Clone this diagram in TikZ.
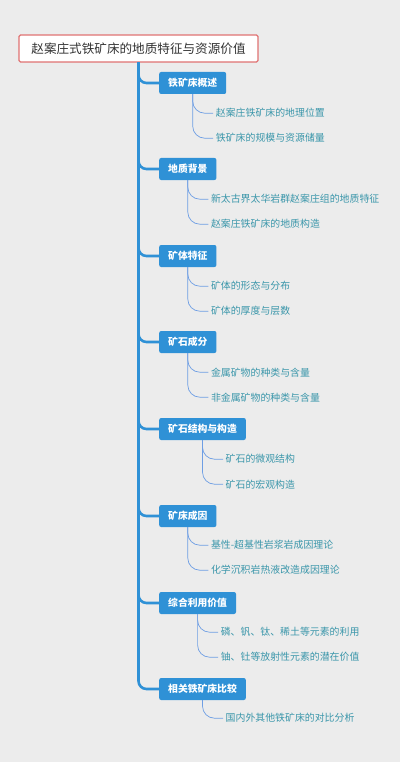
\documentclass[tikz,border=0pt]{standalone}
\usepackage{fontspec}
\setmainfont{Noto Sans CJK SC}
\usetikzlibrary{calc}
\definecolor{bg}{HTML}{ECECEC}
\definecolor{mainblue}{HTML}{2F91D6}
\definecolor{rootred}{HTML}{E07272}
\definecolor{leaftext}{HTML}{3A96AA}
\definecolor{twigblue}{HTML}{6E9EE4}
\definecolor{roottext}{HTML}{333333}
\tikzset{
  rootbox/.style={draw=rootred, line width=1.1pt, fill=white, rounded corners=1.5pt,
    minimum width=239pt, minimum height=27pt, inner sep=0pt, text=roottext,
    font=\fontsize{12.6}{14}\selectfont},
  branchbox/.style={fill=mainblue, rounded corners=2pt, minimum height=22pt,
    inner xsep=9pt, inner ysep=0pt, text=white, anchor=west,
    font=\fontsize{9.8}{11}\selectfont\bfseries},
  leaf/.style={anchor=west, inner sep=0pt, text=leaftext,
    font=\fontsize{9.9}{11}\selectfont},
  trunk/.style={draw=mainblue, line width=2.6pt, rounded corners=8pt},
  twig/.style={draw=twigblue, line width=0.7pt, rounded corners=12pt},
}
\begin{document}
\begin{tikzpicture}[x=1pt,y=-1pt]
\path[fill=bg] (0,0) rectangle (400,762);
\node[rootbox] (root) at (138.5,48.5) {赵案庄式铁矿床的地质特征与资源价值};

\node[branchbox] (b1) at (159,83) {铁矿床概述};
\node[branchbox] (b2) at (159,169) {地质背景};
\node[branchbox] (b3) at (159,256) {矿体特征};
\node[branchbox] (b4) at (159,342) {矿石成分};
\node[branchbox] (b5) at (159,429) {矿石结构与构造};
\node[branchbox] (b6) at (159,516) {矿床成因};
\node[branchbox] (b7) at (159,603) {综合利用价值};
\node[branchbox] (b8) at (159,689) {相关铁矿床比较};

\foreach \b in {b8,b7,b6,b5,b4,b3,b2,b1}{
  \draw[trunk] (root.south) |- (\b.west);
}

\node[leaf] (c11) at ($(b1.south)+(23,19)$) {赵案庄铁矿床的地理位置};
\node[leaf] (c12) at ($(b1.south)+(23,44)$) {铁矿床的规模与资源储量};
\node[leaf] (c21) at ($(b2.south)+(23,19)$) {新太古界太华岩群赵案庄组的地质特征};
\node[leaf] (c22) at ($(b2.south)+(23,44)$) {赵案庄铁矿床的地质构造};
\node[leaf] (c31) at ($(b3.south)+(23,19)$) {矿体的形态与分布};
\node[leaf] (c32) at ($(b3.south)+(23,44)$) {矿体的厚度与层数};
\node[leaf] (c41) at ($(b4.south)+(23,19)$) {金属矿物的种类与含量};
\node[leaf] (c42) at ($(b4.south)+(23,44)$) {非金属矿物的种类与含量};
\node[leaf] (c51) at ($(b5.south)+(23,19)$) {矿石的微观结构};
\node[leaf] (c52) at ($(b5.south)+(23,44)$) {矿石的宏观构造};
\node[leaf] (c61) at ($(b6.south)+(23,18)$) {基性-超基性岩浆岩成因理论};
\node[leaf] (c62) at ($(b6.south)+(23,43)$) {化学沉积岩热液改造成因理论};
\node[leaf] (c71) at ($(b7.south)+(23,18)$) {磷、钒、钛、稀土等元素的利用};
\node[leaf] (c72) at ($(b7.south)+(23,43)$) {铀、钍等放射性元素的潜在价值};
\node[leaf] (c81) at ($(b8.south)+(23,18)$) {国内外其他铁矿床的对比分析};

\foreach \b/\c in {b1/c11,b1/c12,b2/c21,b2/c22,b3/c31,b3/c32,b4/c41,b4/c42,
                   b5/c51,b5/c52,b6/c61,b6/c62,b7/c71,b7/c72,b8/c81}{
  \draw[twig] (\b.south) |- ([xshift=-2.5pt]\c.west);
}
\end{tikzpicture}
\end{document}
